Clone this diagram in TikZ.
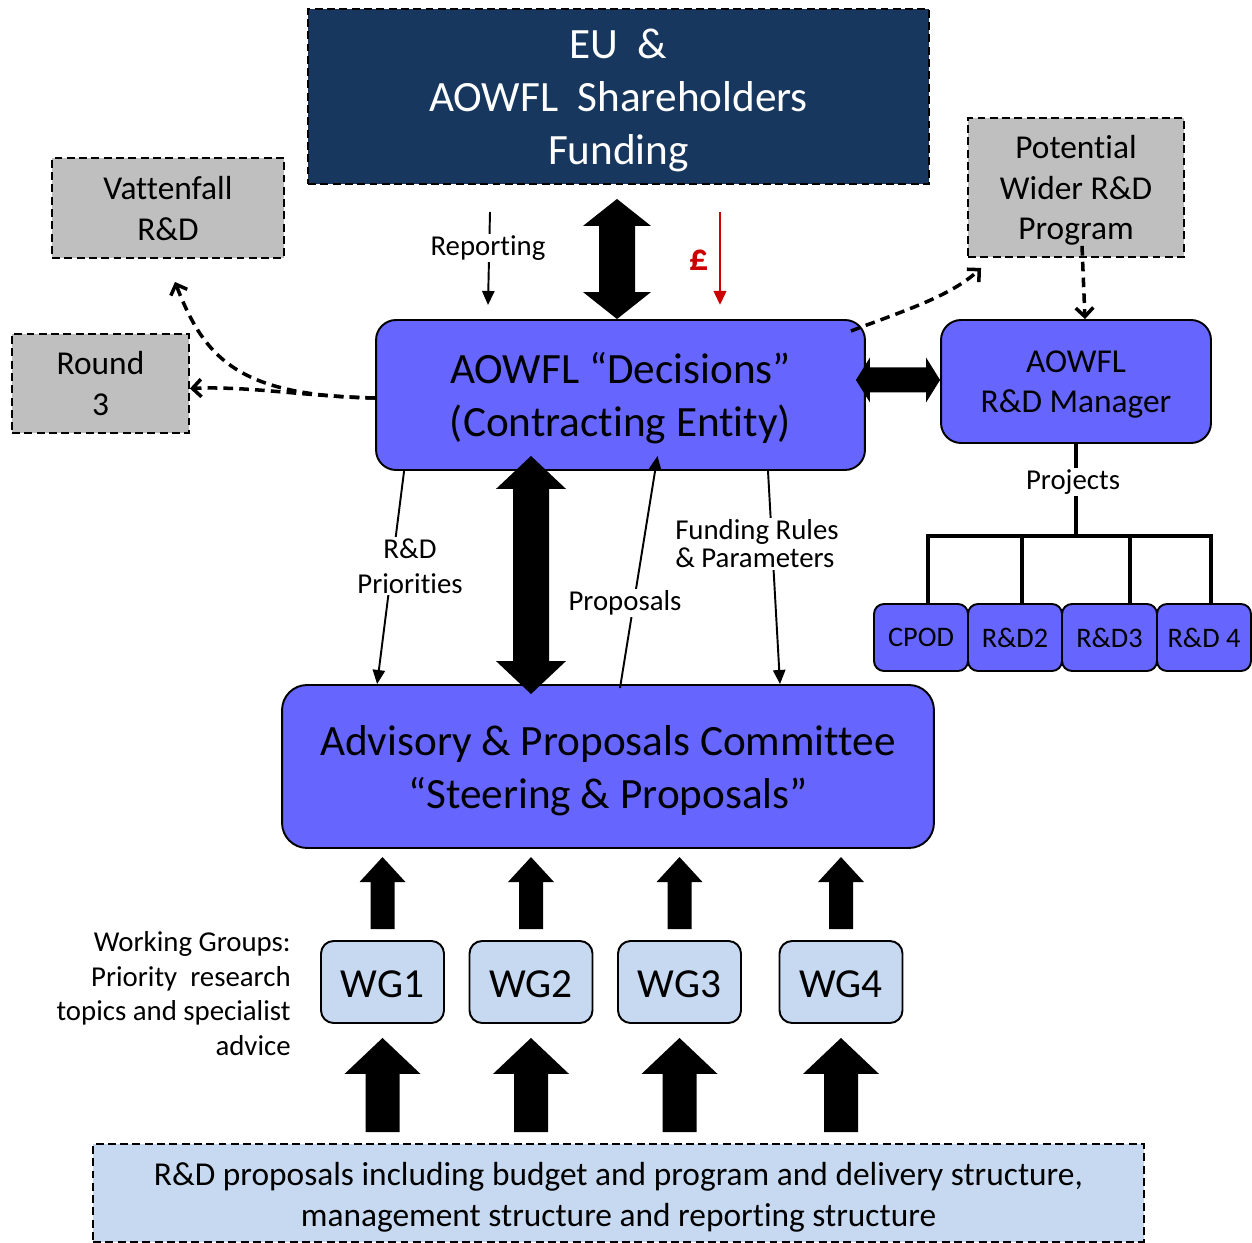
\documentclass[tikz,border=0pt]{standalone}
\usepackage{fontspec}
\setmainfont[Ligatures=NoCommon]{Carlito}
\usetikzlibrary{arrows.meta,calc}
\definecolor{navybox}{RGB}{23,55,94}
\definecolor{bluebox}{RGB}{102,102,255}
\definecolor{greybox}{RGB}{191,191,191}
\definecolor{lightbox}{RGB}{198,217,241}
\definecolor{poundred}{RGB}{204,0,0}
% vertical double block arrow: top, bottom, half shaft, half head, head length
\newcommand\vdarrow[5]{\fill (#1) -- ($(#1)+(#4,#5)$) -- ($(#1)+(#3,#5)$) -- ($(#2)+(#3,-#5)$) -- ($(#2)+(#4,-#5)$) -- (#2) -- ($(#2)+(-#4,-#5)$) -- ($(#2)+(-#3,-#5)$) -- ($(#1)+(-#3,#5)$) -- ($(#1)+(-#4,#5)$) -- cycle;}
% single up block arrow: tip, bottom, half shaft, half head, head length
\newcommand\uparr[5]{\fill (#1) -- ($(#1)+(#4,#5)$) -- ($(#1)+(#3,#5)$) -- ($(#2)+(#3,0)$) -- ($(#2)+(-#3,0)$) -- ($(#1)+(-#3,#5)$) -- ($(#1)+(-#4,#5)$) -- cycle;}
% horizontal double block arrow: left, right, half shaft, half head, head length
\newcommand\hdarrow[5]{\fill (#1) -- ($(#1)+(#5,-#4)$) -- ($(#1)+(#5,-#3)$) -- ($(#2)+(-#5,-#3)$) -- ($(#2)+(-#5,-#4)$) -- (#2) -- ($(#2)+(-#5,#4)$) -- ($(#2)+(-#5,#3)$) -- ($(#1)+(#5,#3)$) -- ($(#1)+(#5,#4)$) -- cycle;}
\tikzset{
  dashbox/.style={draw=black, line width=1.1pt, dash pattern=on 4.5pt off 2.5pt, inner sep=0pt},
  roundbox/.style={draw=black, line width=1.1pt, fill=bluebox, rounded corners=0.4cm, inner sep=0pt},
  boxtext/.style={inner sep=0pt, align=center},
  bigfont/.style={font=\fontsize{24.6}{30}\selectfont},
  midfont/.style={font=\fontsize{19}{23.2}\selectfont},
  lbl/.style={fill=white, inner sep=1pt, align=center, font=\fontsize{16.4}{19.8}\selectfont},
  thinarrow/.style={line width=1.1pt, -{Triangle[length=8pt,width=7pt]}},
  dasharrow/.style={line width=2pt, dash pattern=on 5.5pt off 3.5pt, -{Straight Barb[length=5pt,width=10pt,line width=2pt]}},
  tree/.style={line width=2.8pt},
}
\begin{document}
\begin{tikzpicture}[x=0.02cm, y=-0.02cm]
\useasboundingbox (0,0) rectangle (1252,1243);

% boxes
\node[dashbox, fill=navybox, minimum width=12.42cm, minimum height=3.5cm] (eu) at (618.5,96.5) {};
\node[boxtext, text=white, bigfont] (eut) at ($(eu)+(0,4)$) {EU~ \&\\AOWFL~ Shareholders\\Funding};
\node[dashbox, fill=greybox, minimum width=4.64cm, minimum height=2.0cm] (vat) at (168,208) {};
\node[boxtext, midfont] (vatt) at ($(vat)+(0,0.5)$) {Vattenfall\\R\&D};
\node[dashbox, fill=greybox, minimum width=3.54cm, minimum height=1.98cm] (r3) at (100.5,383.5) {};
\node[boxtext, midfont] (r3t) at (r3) {Round\\3};
\node[dashbox, fill=greybox, minimum width=4.32cm, minimum height=2.78cm] (pot) at (1076,187.5) {};
\node[boxtext, font=\fontsize{19}{23}\selectfont] (pott) at ($(pot)+(0,3)$) {Potential\\Wider R\&D\\Program};
\node[roundbox, minimum width=9.78cm, minimum height=3.0cm] (dec) at (620.5,395) {};
\node[boxtext, bigfont] (dect) at ($(dec)+(0,3)$) {AOWFL “Decisions”\\(Contracting Entity)};
\node[roundbox, minimum width=5.4cm, minimum height=2.46cm] (mgr) at (1076,381.5) {};
\node[boxtext, midfont] (mgrt) at ($(mgr)+(0,3)$) {AOWFL\\R\&D Manager};
\node[roundbox, rounded corners=0.2cm, font=\fontsize{16.1}{18}\selectfont, minimum width=1.88cm, minimum height=1.34cm] (p1) at (921,637.5) {CPOD};
\node[roundbox, rounded corners=0.2cm, font=\fontsize{16.1}{18}\selectfont, minimum width=1.88cm, minimum height=1.34cm] (p2) at (1015,637.5) {R\&D2};
\node[roundbox, rounded corners=0.2cm, font=\fontsize{16.1}{18}\selectfont, minimum width=1.9cm, minimum height=1.34cm] (p3) at (1109.5,637.5) {R\&D3};
\node[roundbox, rounded corners=0.2cm, font=\fontsize{16.1}{18}\selectfont, minimum width=1.88cm, minimum height=1.34cm] (p4) at (1204,637.5) {R\&D 4};
\node[roundbox, rounded corners=0.5cm, minimum width=13.04cm, minimum height=3.26cm] (adv) at (608,766.5) {};
\node[boxtext, bigfont] (advt) at ($(adv)+(0,4)$) {Advisory \& Proposals Committee\\“Steering \& Proposals”};
\foreach \n/\x in {1/382.5,2/531,3/679.5,4/841}{
  \node[roundbox, fill=lightbox, rounded corners=0.25cm, minimum width=2.46cm, minimum height=1.64cm] (wg\n) at (\x,982) {};
  \node[boxtext, font=\fontsize{23.5}{26}\selectfont] (wg\n t) at ($(wg\n)+(0,2)$) {WG\n};
}
\node[dashbox, fill=lightbox, minimum width=21.02cm, minimum height=1.96cm] (bot) at (618.5,1193) {};
\node[boxtext, midfont] (bott) at ($(bot)+(0,4)$) {R\&D proposals including budget and program and delivery structure,\\management structure and reporting structure};
\node[anchor=east, align=right, inner sep=0pt, font=\fontsize{16.4}{19.8}\selectfont] (wgtxt) at (291,993.5) {Working Groups:\\Priority\ \ research\\topics and specialist\\advice};

% block arrows
\coordinate (a1t) at ($(eu.south)+(-1.5,14)$);
\coordinate (a1b) at (dec.north -| a1t);
\vdarrow{a1t}{a1b}{18}{34}{27}
\coordinate (a2t) at ($(dec.south)+(-89.5,-15)$);
\coordinate (a2b) at ($(adv.north -| a2t)+(0,10)$);
\vdarrow{a2t}{a2b}{18}{35}{33}
\coordinate (a3l) at ($(dec.east)+(-10,-15)$);
\coordinate (a3r) at (mgr.west |- a3l);
\hdarrow{a3l}{a3r}{12.5}{22.5}{14}
\foreach \w in {wg1,wg2,wg3,wg4}{
  \coordinate (\w t) at ($(\w.north)+(0,-83)$);
  \coordinate (\w b) at ($(\w.north)+(0,-11)$);
  \uparr{\w t}{\w b}{12}{23}{25}
  \coordinate (\w u) at ($(\w.south)+(0,14)$);
  \coordinate (\w d) at ($(bot.north -| \w)+(0,-11)$);
  \uparr{\w u}{\w d}{17}{38}{36}
}

% thin arrows with labels
\coordinate (rep1) at (490,212);
\coordinate (rep2) at (488,305);
\draw[thinarrow] (rep1) -- (rep2);
\node[lbl] (replbl) at (488,248) {Reporting};
\coordinate (pd1) at (720,212);
\coordinate (pd2) at (720,305);
\draw[thinarrow, draw=poundred, fill=poundred, line width=1.7pt] (pd1) -- (pd2);
\node[text=poundred, font=\fontsize{21.5}{24}\selectfont\bfseries, inner sep=0pt] (pound) at (699,260) {£};

\draw[thinarrow] ($(dec.south west)+(29,0)$) -- ($(adv.north west)+(96,0)$);
\node[lbl] (prio) at (410,566) {R\&D\\Priorities};
\draw[thinarrow] ($(adv.north)+(12,4)$) -- ($(dec.south)+(37,-15)$);
\node[lbl] (propl) at (625,603) {Proposals};
\draw[thinarrow] ($(dec.south)+(147.5,0)$) -- ($(adv.north)+(172,0)$);
\node[lbl, align=left, font=\fontsize{16.4}{16}\selectfont] (fund) at (757,544) {Funding Rules\\\& Parameters};

% projects tree
\draw[tree] (mgr.south) -- ++(0,94);
\node[lbl] (projl) at (1073,482) {Projects};
\draw[tree] ($(p1.north)+(7,0)$) -- ++(0,-67) -| ($(p4.north)+(7,0)$);
\draw[tree] ($(p2.north)+(7,0)$) -- ++(0,-67);
\draw[tree] ($(p3.north)+(20.5,0)$) -- ++(0,-67);

% dashed connectors
\coordinate (ds) at ($(dec.west)+(0,3)$);
\draw[dasharrow] (ds) .. controls (300,396) and (250,386) .. ($(r3.east)+(0,5)$);
\draw[dasharrow] (ds) .. controls (240,396) and (205,360) .. ($(vat.south)+(7,23)$);
\draw[dasharrow] ($(dec.north east)+(-15,12)$) .. controls (900,312) and (950,297) .. ($(pot.south west)+(14,10)$);
\draw[dasharrow] ($(pot.south)+(6,-12)$) -- ($(mgr.north)+(9,0)$);
\end{tikzpicture}
\end{document}
